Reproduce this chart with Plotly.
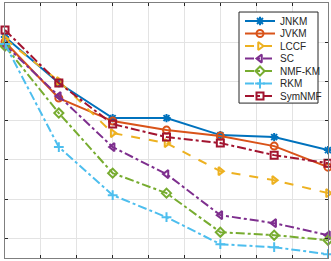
import plotly.graph_objects as go

x_vals = [2, 5, 8, 11, 14, 17, 20]

def px2val(py):
    return round(1.0 - (py - 3) / 392.0, 4)

def px2x(px):
    return 2 + (px - 5) / 323.0 * 18

# values (pixel rows converted to the axis scale)
jnkm   = [px2val(p) for p in [37, 83, 118, 118, 135, 137, 150]]
jvkm   = [px2val(p) for p in [42, 98, 121, 130, 136, 146, 167]]
lccf   = [px2val(p) for p in [39, 81, 133, 143, 171, 180, 193]]
sc     = [px2val(p) for p in [45, 96, 147, 174, 215, 223, 235]]
nmfkm  = [px2val(p) for p in [46, 113, 173, 193, 232, 235, 240]]
rkm    = [px2val(p) for p in [44, 147, 195, 217, 244, 247, 254]]
symnmf = [px2val(p) for p in [30, 83, 124, 137, 143, 155, 163]]

series = [
    ("JNKM", jnkm, "#0072BD", "solid", "asterisk-open"),
    ("JVKM", jvkm, "#D95319", "solid", "circle-open"),
    ("LCCF", lccf, "#EDB120", "dash", "triangle-right-open"),
    ("SC", sc, "#7E2F8E", "dashdot", "triangle-left-open"),
    ("NMF-KM", nmfkm, "#77AC30", "dashdot", "diamond-open"),
    ("RKM", rkm, "#4DBEEE", "dashdot", "cross-thin-open"),
    ("SymNMF", symnmf, "#A2142F", "dashdot", "square-open"),
]

fig = go.Figure()
for name, ys, col, dash, sym in series:
    fig.add_trace(go.Scatter(
        x=x_vals, y=ys, name=name, mode="lines+markers",
        line=dict(color=col, width=2, dash=dash),
        marker=dict(symbol=sym, size=7, color=col, line=dict(color=col, width=2)),
        cliponaxis=False, showlegend=False,
    ))

axis_common = dict(
    showticklabels=False, ticks="inside", ticklen=3, tickcolor="#262626",
    showline=True, linecolor="#7f7f7f", linewidth=1, mirror="ticks",
    showgrid=True, gridcolor="#e3e3e3", gridwidth=1, zeroline=False,
)
fig.update_xaxes(range=[2, 20], dtick=2, tick0=2, **axis_common)
fig.update_yaxes(range=[0.35, 1.0], dtick=0.1, tick0=0.4, **axis_common)

# compact legend box (MATLAB-style spacing)
box_x0, box_x1, box_y0, box_y1 = 239, 318, 12, 103
fig.add_shape(type="rect", xref="x", yref="y",
              x0=px2x(box_x0), x1=px2x(box_x1), y0=px2val(box_y0), y1=px2val(box_y1),
              line=dict(color="#262626", width=1), fillcolor="white", layer="between")
row_y0, row_step = 21, 12.5
for i, (name, ys, col, dash, sym) in enumerate(series):
    ry = px2val(row_y0 + i * row_step)
    fig.add_shape(type="line", xref="x", yref="y", x0=px2x(245), x1=px2x(275), y0=ry, y1=ry,
                  line=dict(color=col, width=2, dash=dash), layer="between")
    fig.add_trace(go.Scatter(
        x=[px2x(260)], y=[ry], mode="markers", showlegend=False,
        marker=dict(symbol=sym, size=7, color=col, line=dict(color=col, width=2)),
        hoverinfo="skip", cliponaxis=False,
    ))
    fig.add_annotation(x=px2x(278), y=ry, xref="x", yref="y", text=name, showarrow=False,
                       xanchor="left", yanchor="middle",
                       font=dict(size=10, color="#262626"))

fig.update_layout(
    width=331, height=261,
    margin=dict(l=5, r=3, t=3, b=3),
    paper_bgcolor="white", plot_bgcolor="white",
    font=dict(family="Liberation Sans, Arial, sans-serif", size=10, color="#262626"),
    showlegend=False,
)

fig.write_html("out.html")
